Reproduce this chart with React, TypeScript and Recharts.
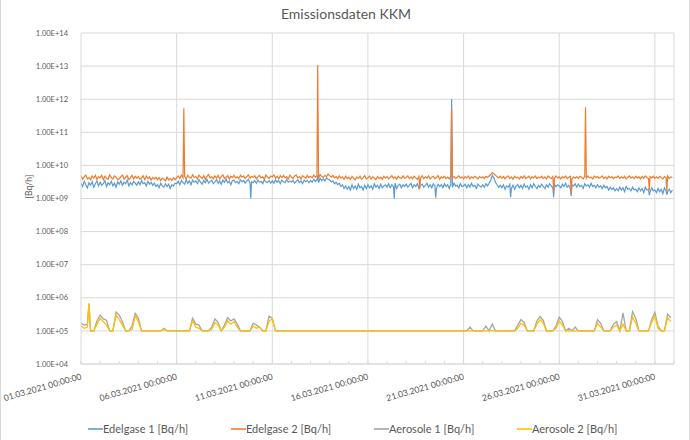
import React from "react";
import {
  CartesianGrid,
  Legend,
  Line,
  LineChart,
  ReferenceLine,
  XAxis,
  YAxis,
} from "recharts";

// time grids: hours since 01.03.2021 00:00
const hours2 = Array.from({ length: 372 }, (_, i) => i * 2); // Edelgase, every 2 h
const hours4 = Array.from({ length: 186 }, (_, i) => i * 4); // Aerosole, every 4 h

// Edelgase 1 [Bq/h], in units of 1e9 (one row per day)
const edelgase1 = [
  2.9, 2.3, 3.3, 2.6, 2.1, 3.0, 2.5, 3.2, 2.2, 2.8, 3.4, 2.4,
  3.1, 2.5, 2.8, 3.5, 2.3, 3.0, 2.6, 3.3, 2.4, 2.9, 2.2, 3.2,
  2.7, 3.4, 2.5, 3.1, 2.8, 3.6, 2.4, 3.0, 2.6, 3.3, 2.9, 2.5,
  3.2, 2.6, 3.5, 2.8, 3.0, 2.4, 3.3, 2.7, 3.1, 2.5, 2.9, 2.3,
  2.6, 2.1, 2.9, 2.4, 2.2, 2.8, 2.3, 2.7, 2.0, 2.6, 2.4, 2.9,
  2.8, 3.3, 2.6, 3.5, 3.0, 2.7, 3.7, 2.9, 3.4, 2.6, 3.6, 3.1,
  3.4, 2.8, 3.7, 3.1, 2.7, 3.5, 3.0, 3.8, 2.9, 3.3, 3.6, 2.8,
  3.2, 3.7, 2.9, 3.4, 2.7, 3.6, 3.1, 3.9, 3.0, 3.3, 2.6, 3.5,
  3.6, 3.0, 3.3, 2.8, 3.7, 3.2, 3.5, 2.9, 3.4, 3.8, 3.0, 3.2,
  3.0, 3.5, 2.9, 3.6, 3.1, 3.3, 2.8, 3.7, 3.2, 3.0, 3.5, 2.9,
  3.4, 2.9, 3.7, 3.1, 3.5, 2.8, 3.6, 3.2, 3.0, 3.8, 3.1, 3.4,
  3.1, 3.6, 2.9, 3.3, 3.7, 3.0, 3.4, 2.8, 3.6, 3.2, 3.5, 3.0,
  3.5, 3.1, 3.8, 3.3, 3.6, 3.0, 4.1, 3.5, 3.9, 3.4, 4.2, 3.8,
  3.6, 3.2, 3.4, 2.8, 3.1, 2.6, 2.9, 2.3, 2.6, 2.0, 2.4, 1.9,
  2.3, 1.8, 2.6, 2.0, 2.4, 1.9, 2.7, 2.1, 2.3, 1.8, 2.5, 2.0,
  2.6, 2.1, 2.4, 1.9, 2.8, 2.2, 2.5, 2.0, 2.7, 2.1, 2.4, 2.6,
  2.2, 2.8, 2.1, 2.6, 2.3, 2.9, 2.0, 2.5, 2.7, 2.1, 2.6, 2.3,
  2.7, 2.2, 2.5, 2.9, 2.1, 2.6, 2.3, 2.8, 2.0, 2.5, 2.7, 2.2,
  2.5, 2.9, 2.2, 2.6, 2.1, 2.8, 2.4, 2.0, 2.7, 2.3, 2.6, 2.1,
  2.8, 2.3, 2.6, 2.0, 2.7, 2.2, 2.9, 2.4, 2.5, 2.1, 2.8, 2.3,
  2.4, 2.7, 2.1, 2.6, 2.2, 2.9, 2.3, 2.5, 2.0, 2.7, 2.4, 2.2,
  2.6, 2.2, 2.8, 2.4, 2.9, 3.5, 5.0, 4.2, 3.1, 2.6, 2.2, 2.5,
  2.1, 2.6, 1.9, 2.4, 2.2, 2.7, 2.0, 2.5, 1.9, 2.4, 2.6, 2.1,
  2.5, 2.0, 2.7, 2.2, 2.4, 1.9, 2.6, 2.1, 2.8, 2.3, 2.0, 2.5,
  2.2, 2.7, 2.3, 2.0, 2.6, 2.2, 2.8, 2.4, 2.1, 2.7, 2.3, 2.6,
  2.4, 2.1, 2.7, 2.3, 2.9, 2.2, 2.5, 2.0, 2.6, 2.4, 2.8, 2.2,
  2.7, 2.3, 2.5, 2.0, 2.8, 2.4, 2.6, 2.2, 2.9, 2.3, 2.5, 2.1,
  2.6, 2.2, 2.4, 2.0, 2.5, 2.1, 2.3, 1.8, 2.2, 1.9, 2.1, 1.7,
  2.0, 1.7, 2.2, 1.8, 2.1, 1.6, 2.3, 1.9, 2.0, 1.7, 2.2, 1.8,
  1.9, 1.6, 2.1, 1.7, 2.0, 1.5, 2.2, 1.8, 1.9, 1.6, 2.1, 1.7,
  1.8, 1.5, 2.0, 1.6, 1.9, 1.4, 2.1, 1.7, 1.6, 1.9, 1.5, 1.8,
];

// Edelgase 2 [Bq/h], in units of 1e9 (one row per day)
const edelgase2 = [
  4.9, 3.8, 4.5, 5.1, 3.9, 4.3, 3.7, 4.8, 4.1, 5.0, 3.8, 4.6,
  4.2, 5.0, 3.7, 4.7, 4.0, 3.8, 5.2, 4.3, 3.9, 4.8, 4.4, 3.7,
  3.9, 4.6, 5.1, 3.8, 4.4, 4.9, 3.7, 4.2, 5.0, 3.9, 4.7, 4.1,
  4.6, 3.8, 4.2, 4.9, 3.7, 4.8, 4.0, 4.5, 3.6, 4.3, 3.9, 4.4,
  3.7, 4.3, 3.5, 4.1, 3.8, 3.4, 4.4, 3.6, 4.0, 3.5, 4.2, 3.7,
  4.3, 4.8, 4.0, 5.1, 4.2, 4.7, 3.9, 5.0, 4.4, 4.1, 5.2, 4.3,
  4.6, 3.9, 5.1, 4.4, 4.0, 4.9, 3.8, 4.7, 5.3, 4.2, 4.5, 3.9,
  4.8, 4.1, 5.0, 3.9, 4.6, 5.2, 4.0, 4.4, 4.9, 3.8, 4.7, 4.3,
  5.0, 4.2, 4.5, 3.9, 5.1, 4.4, 4.8, 4.0, 4.6, 5.2, 4.1, 4.7,
  4.3, 4.9, 3.9, 4.6, 5.0, 4.2, 4.5, 3.8, 5.1, 4.4, 4.0, 4.8,
  4.5, 5.2, 4.1, 4.7, 3.9, 4.9, 4.3, 5.0, 4.2, 4.6, 3.9, 5.1,
  4.4, 4.0, 4.8, 5.1, 4.2, 4.6, 3.9, 4.9, 4.5, 4.1, 5.0, 4.3,
  4.7, 4.2, 5.1, 4.4, 4.9, 4.0, 5.3, 4.6, 4.3, 5.0, 4.5, 5.4,
  4.9, 4.4, 5.0, 4.2, 4.6, 3.9, 4.8, 4.1, 4.5, 3.8, 4.7, 4.0,
  4.4, 3.8, 4.6, 4.1, 3.7, 4.5, 4.0, 4.7, 3.8, 4.3, 4.9, 3.9,
  4.2, 4.8, 3.9, 4.5, 4.1, 3.7, 4.6, 4.0, 4.4, 3.8, 4.7, 4.2,
  4.6, 3.9, 4.3, 4.9, 4.0, 4.5, 3.8, 4.7, 4.2, 4.0, 4.8, 4.1,
  4.3, 4.8, 4.0, 4.5, 3.9, 4.7, 4.2, 3.8, 4.6, 4.1, 4.9, 4.0,
  4.5, 4.1, 4.8, 3.9, 4.4, 4.7, 4.0, 4.3, 4.9, 3.8, 4.5, 4.2,
  4.7, 4.0, 4.4, 3.9, 4.8, 4.2, 4.6, 4.0, 4.3, 4.9, 4.1, 4.5,
  4.0, 4.6, 4.2, 4.8, 3.9, 4.5, 4.1, 4.7, 4.3, 3.9, 4.6, 4.2,
  4.5, 4.0, 4.7, 4.3, 4.8, 5.3, 6.1, 5.6, 5.0, 4.6, 4.2, 4.7,
  4.1, 4.6, 3.9, 4.4, 4.8, 4.0, 4.5, 3.8, 4.7, 4.2, 4.4, 3.9,
  4.6, 4.1, 4.8, 4.0, 4.3, 4.7, 3.9, 4.5, 4.2, 4.8, 4.0, 4.4,
  4.2, 4.7, 4.0, 4.5, 3.9, 4.8, 4.3, 4.0, 4.6, 4.1, 4.8, 4.2,
  4.5, 3.9, 4.6, 4.2, 4.8, 4.0, 4.4, 4.7, 3.9, 4.5, 4.1, 4.6,
  4.0, 4.7, 4.3, 3.9, 4.6, 4.1, 4.8, 4.2, 4.4, 3.9, 4.7, 4.3,
  4.6, 4.1, 4.4, 4.8, 4.0, 4.5, 3.9, 4.7, 4.2, 4.6, 4.0, 4.4,
  4.3, 4.8, 4.0, 4.5, 4.1, 4.7, 3.9, 4.4, 4.8, 4.1, 4.5, 4.0,
  4.7, 4.2, 4.5, 3.9, 4.6, 4.1, 4.8, 4.3, 4.0, 4.6, 4.2, 4.7,
  4.1, 4.5, 4.0, 4.7, 4.3, 3.9, 4.6, 4.2, 4.8, 4.0, 4.5, 4.3,
];

// Aerosole 1 [Bq/h], in units of 1e5 (two days per row)
const aerosole1 = [
  1.7, 1.5, 1.6, 1.0, 1.0, 2.0, 3.0, 2.3, 2.1, 1.0, 1.0, 3.7,
  3.0, 1.9, 1.0, 1.0, 1.4, 3.4, 2.4, 1.0, 1.0, 1.0, 1.0, 1.0,
  1.0, 1.0, 1.2, 1.0, 1.0, 1.0, 1.0, 1.0, 1.0, 1.0, 1.0, 2.4,
  1.6, 1.5, 1.0, 1.0, 1.0, 1.3, 2.3, 1.8, 1.0, 1.5, 2.5, 2.0,
  2.3, 1.6, 1.0, 1.0, 1.0, 1.0, 1.7, 1.5, 1.3, 1.0, 1.0, 2.8,
  2.4, 1.0, 1.0, 1.0, 1.0, 1.0, 1.0, 1.0, 1.0, 1.0, 1.0, 1.0,
  1.0, 1.0, 1.0, 1.0, 1.0, 1.0, 1.0, 1.0, 1.0, 1.0, 1.0, 1.0,
  1.0, 1.0, 1.0, 1.0, 1.0, 1.0, 1.0, 1.0, 1.0, 1.0, 1.0, 1.0,
  1.0, 1.0, 1.0, 1.0, 1.0, 1.0, 1.0, 1.0, 1.0, 1.0, 1.0, 1.0,
  1.0, 1.0, 1.0, 1.0, 1.0, 1.0, 1.0, 1.0, 1.0, 1.0, 1.0, 1.0,
  1.0, 1.0, 1.3, 1.0, 1.0, 1.0, 1.0, 1.4, 1.0, 1.6, 1.0, 1.0,
  1.0, 1.0, 1.0, 1.0, 1.0, 1.5, 2.2, 1.8, 1.0, 1.0, 1.0, 2.0,
  2.7, 2.1, 1.0, 1.0, 1.0, 1.4, 2.6, 1.9, 1.0, 1.2, 1.0, 1.3,
  1.0, 1.0, 1.0, 1.0, 1.0, 1.0, 2.2, 1.7, 1.0, 1.0, 1.0, 1.6,
  1.9, 1.0, 3.5, 1.0, 1.0, 3.8, 2.4, 1.0, 1.0, 1.0, 1.0, 2.2,
  3.6, 1.4, 1.0, 1.0, 3.2, 2.5,
];

// Aerosole 2 [Bq/h], in units of 1e5 (two days per row)
const aerosole2 = [
  1.4, 1.2, 1.3, 1.0, 1.0, 1.6, 2.4, 1.9, 1.5, 1.0, 1.0, 3.0,
  2.2, 1.5, 1.0, 1.0, 1.1, 2.8, 1.9, 1.0, 1.0, 1.0, 1.0, 1.0,
  1.0, 1.0, 1.1, 1.0, 1.0, 1.0, 1.0, 1.0, 1.0, 1.0, 1.0, 2.0,
  1.3, 1.2, 1.0, 1.0, 1.0, 1.1, 1.8, 1.5, 1.0, 1.3, 2.0, 1.6,
  1.9, 1.3, 1.0, 1.0, 1.0, 1.0, 1.4, 1.2, 1.3, 1.0, 1.0, 2.0,
  2.3, 1.0, 1.0, 1.0, 1.0, 1.0, 1.0, 1.0, 1.0, 1.0, 1.0, 1.0,
  1.0, 1.0, 1.0, 1.0, 1.0, 1.0, 1.0, 1.0, 1.0, 1.0, 1.0, 1.0,
  1.0, 1.0, 1.0, 1.0, 1.0, 1.0, 1.0, 1.0, 1.0, 1.0, 1.0, 1.0,
  1.0, 1.0, 1.0, 1.0, 1.0, 1.0, 1.0, 1.0, 1.0, 1.0, 1.0, 1.0,
  1.0, 1.0, 1.0, 1.0, 1.0, 1.0, 1.0, 1.0, 1.0, 1.0, 1.0, 1.0,
  1.0, 1.0, 1.0, 1.0, 1.0, 1.0, 1.0, 1.0, 1.0, 1.0, 1.0, 1.0,
  1.0, 1.0, 1.0, 1.0, 1.0, 1.2, 1.7, 1.5, 1.0, 1.0, 1.0, 1.6,
  2.2, 1.7, 1.0, 1.0, 1.0, 1.2, 2.0, 1.5, 1.0, 1.0, 1.0, 1.0,
  1.0, 1.0, 1.0, 1.0, 1.0, 1.0, 1.7, 1.3, 1.0, 1.0, 1.0, 1.3,
  1.5, 1.0, 1.6, 1.0, 1.0, 2.6, 1.7, 1.0, 1.0, 1.0, 1.0, 1.8,
  2.8, 1.2, 1.0, 1.0, 2.5, 1.9,
];

// single-hour peaks and dips [hour, Bq/h]
const edelgase1Events: [number, number][] = [
  [213, 1.0e9], [297, 5.0e9], [393, 1.0e9], [445, 1.05e9], [465, 1.0e12],
  [539, 1.1e9], [593, 1.1e9], [615, 1.2e9], [713, 1.25e9], [735, 1.3e9],
];
const edelgase2Events: [number, number][] = [
  [129, 5.3e11], [297, 1.07e13], [425, 1.9e9], [465, 5.0e11],
  [593, 1.7e9], [615, 1.4e9], [633, 5.7e11], [713, 1.8e9], [735, 1.7e9],
];
const aerosole1Events: [number, number][] = [[10, 6.5e5]];
const aerosole2Events: [number, number][] = [[10, 7.0e5]];

const yTicks = [1e4, 1e5, 1e6, 1e7, 1e8, 1e9, 1e10, 1e11, 1e12, 1e13, 1e14];
const dayTicks = Array.from({ length: 32 }, (_, i) => i * 24);
const dateTicks = [0, 120, 240, 360, 480, 600, 720];
const dateLabels = [
  "01.03.2021 00:00:00",
  "06.03.2021 00:00:00",
  "11.03.2021 00:00:00",
  "16.03.2021 00:00:00",
  "21.03.2021 00:00:00",
  "26.03.2021 00:00:00",
  "31.03.2021 00:00:00",
];
const gridDays = [120, 240, 360, 480, 600, 720, 744];

const series = [
  { name: "Edelgase 1 [Bq/h]", color: "#5B9BD5", hours: hours2, values: edelgase1, unit: 1e9, events: edelgase1Events, width: 1.2 },
  { name: "Edelgase 2 [Bq/h]", color: "#ED7D31", hours: hours2, values: edelgase2, unit: 1e9, events: edelgase2Events, width: 1.2 },
  { name: "Aerosole 1 [Bq/h]", color: "#A5A5A5", hours: hours4, values: aerosole1, unit: 1e5, events: aerosole1Events, width: 1.3 },
  { name: "Aerosole 2 [Bq/h]", color: "#FFC000", hours: hours4, values: aerosole2, unit: 1e5, events: aerosole2Events, width: 1.3 },
];

function toPoints(hours: number[], values: number[], unit: number, events: [number, number][]) {
  const pts = hours.map((t, i) => ({ t, v: values[i] * unit }));
  events.forEach(([t, v]) => pts.push({ t, v }));
  return pts.sort((a, b) => a.t - b.t);
}

const TEXT = "#595959";
const GRID = "#D9D9D9";

function expLabel(v: number) {
  const e = Math.round(Math.log10(v));
  return `1.00E+${String(e).padStart(2, "0")}`;
}

function DateTick(props: any) {
  const { x, payload } = props;
  const idx = dateTicks.indexOf(payload.value);
  if (idx < 0) return null;
  const px = x + 1;
  const py = 379;
  return (
    <text x={px} y={py} textAnchor="end" fill={TEXT} fontSize={8.6} transform={`rotate(-16, ${px}, ${py})`}>
      {dateLabels[idx]}
    </text>
  );
}

function LegendContent() {
  return (
    <div style={{ display: "flex", paddingLeft: 87, paddingTop: 6, fontSize: 11, color: TEXT }}>
      {series.map((s) => (
        <div key={s.name} style={{ width: 143, display: "flex", alignItems: "center" }}>
          <span style={{ display: "inline-block", width: 15, height: 2, background: s.color, opacity: 0.8 }} />
          <span>{s.name}</span>
        </div>
      ))}
    </div>
  );
}

export default function App() {
  return (
    <div
      style={{
        position: "absolute",
        left: 0,
        top: 0,
        width: 690,
        height: 440,
        background: "#fff",
        fontFamily: "Lato, sans-serif",
        boxSizing: "border-box",
        borderLeft: `1px solid ${GRID}`,
        borderRight: `1px solid ${GRID}`,
      }}
    >
      <div
        style={{
          position: "absolute",
          top: 5,
          left: 0,
          width: 690,
          textAlign: "center",
          fontSize: 14,
          color: TEXT,
        }}
      >
        Emissionsdaten KKM
      </div>
      <LineChart width={690} height={440} margin={{ top: 33, right: 17, left: 0, bottom: 0 }}>
        <CartesianGrid stroke={GRID} vertical={false} />
        {gridDays.map((d) => (
          <ReferenceLine key={d} x={d} stroke={GRID} />
        ))}
        <XAxis
          dataKey="t"
          type="number"
          domain={[0, 744]}
          ticks={dayTicks}
          interval={0}
          allowDataOverflow
          height={52}
          tickSize={-3}
          stroke={GRID}
          tick={<DateTick />}
        />
        <YAxis
          scale="log"
          type="number"
          domain={[1e4, 1e14]}
          ticks={yTicks}
          interval={0}
          allowDataOverflow
          width={80}
          axisLine={{ stroke: GRID }}
          tickLine={false}
          tickMargin={7}
          tick={{ fill: TEXT, fontSize: 7.5 }}
          tickFormatter={expLabel}
          label={{ value: "[Bq/h]", angle: -90, position: "insideLeft", offset: 28, fill: TEXT, fontSize: 8.5 }}
        />
        <Legend verticalAlign="bottom" height={24} content={<LegendContent />} />
        {series.map((s) => (
          <Line
            key={s.name}
            data={toPoints(s.hours, s.values, s.unit, s.events)}
            dataKey="v"
            name={s.name}
            stroke={s.color}
            strokeWidth={s.width}
            dot={false}
            activeDot={false}
            isAnimationActive={false}
          />
        ))}
      </LineChart>
    </div>
  );
}
